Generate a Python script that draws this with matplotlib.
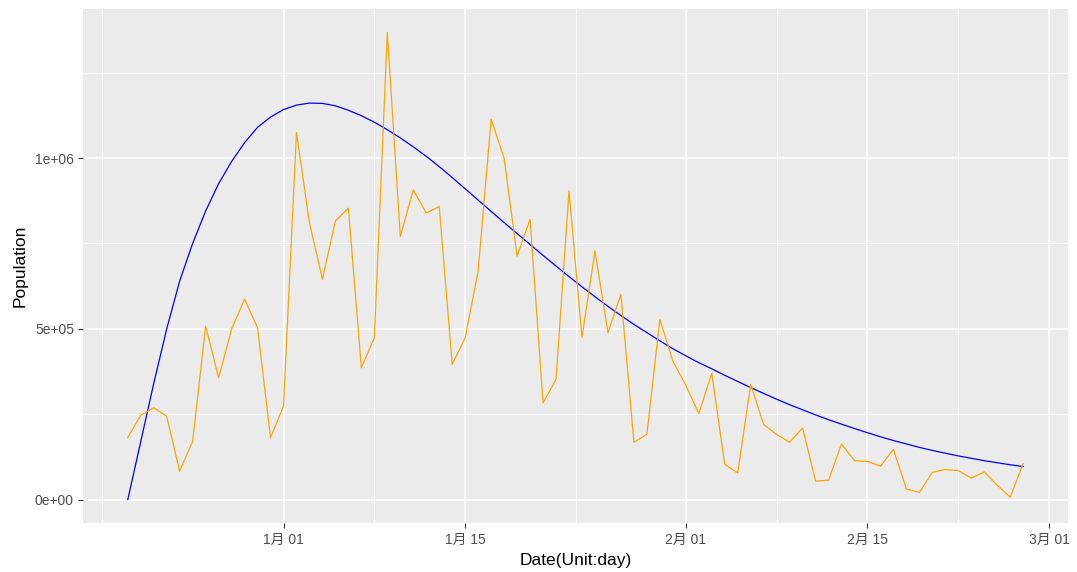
import matplotlib
matplotlib.use("Agg")

import matplotlib.pyplot as plt
import matplotlib.ticker as mticker
import pandas as pd

plt.rcParams["font.family"] = ["Liberation Sans", "Noto Sans CJK SC"]

# ── Data ──────────────────────────────────────────────────────────────────────
start_date = "2020-12-20"

# observed daily population
daily_counts = [
    182e3, 247e3, 269e3, 244e3, 83e3, 171e3, 508e3, 357e3, 499e3, 587e3,
    503e3, 181e3, 274e3, 1075e3, 810e3, 645e3, 816e3, 853e3, 386e3, 474e3,
    1368e3, 770e3, 907e3, 839e3, 858e3, 396e3, 474e3, 670e3, 1114e3, 999e3,
    713e3, 821e3, 283e3, 352e3, 904e3, 474e3, 728e3, 489e3, 601e3, 168e3,
    191e3, 528e3, 406e3, 335e3, 252e3, 370e3, 103e3, 78e3, 337e3, 220e3,
    191e3, 168e3, 210e3, 54e3, 57e3, 163e3, 114e3, 112e3, 98e3, 147e3,
    31e3, 21e3, 80e3, 88e3, 85e3, 63e3, 81e3, 42e3, 7e3, 106e3,
]

# fitted curve
fitted_counts = [
    0, 170e3, 340e3, 500e3, 640e3, 750e3, 845e3, 925e3, 990e3, 1045e3,
    1090e3, 1120e3, 1142e3, 1155e3, 1161e3, 1160e3, 1153e3, 1140e3, 1124e3, 1105e3,
    1083e3, 1059e3, 1033e3, 1005e3, 975e3, 943e3, 910e3, 877e3, 844e3, 811e3,
    779e3, 747e3, 715e3, 684e3, 653e3, 623e3, 594e3, 566e3, 539e3, 513e3,
    489e3, 465e3, 442e3, 421e3, 401e3, 383e3, 364e3, 346e3, 328e3, 311e3,
    294e3, 278e3, 263e3, 248e3, 234e3, 221e3, 208e3, 196e3, 184e3, 173e3,
    163e3, 153e3, 144e3, 136e3, 128e3, 121e3, 114e3, 108e3, 102e3, 97e3,
]

tick_dates = ["2021-01-01", "2021-01-15", "2021-02-01", "2021-02-15", "2021-03-01"]
tick_labels = ["1月 01", "1月 15", "2月 01", "2月 15", "3月 01"]
minor_dates = ["2020-12-18 00:00", "2021-01-08 00:00", "2021-01-23 12:00",
               "2021-02-08 00:00", "2021-02-22 00:00"]

y_ticks = [0, 5e5, 1e6]
y_labels = ["0e+00", "5e+05", "1e+06"]
y_minor = [2.5e5, 7.5e5, 1.25e6]

dates = pd.date_range(start_date, periods=len(daily_counts), freq="D")

# ── Figure ────────────────────────────────────────────────────────────────────
fig = plt.figure(figsize=(10.77, 5.72), dpi=100, facecolor="white")
ax = fig.add_axes([83 / 1077, 1 - 523 / 572, (1068 - 83) / 1077, (523 - 9) / 572])
ax.set_facecolor("#EBEBEB")

ax.plot(dates, fitted_counts, color="blue", lw=0.9)
ax.plot(dates, daily_counts, color="orange", lw=0.9)

# ggplot-style 5% expansion
span = dates[-1] - dates[0]
ax.set_xlim(dates[0] - span * 0.05, dates[-1] + span * 0.05)
ymin, ymax = min(min(daily_counts), min(fitted_counts)), max(max(daily_counts), max(fitted_counts))
pad = (ymax - ymin) * 0.05
ax.set_ylim(ymin - pad, ymax + pad)

ax.set_xticks(pd.to_datetime(tick_dates))
ax.set_xticklabels(tick_labels)
ax.set_xticks(pd.to_datetime(minor_dates, format="%Y-%m-%d %H:%M"), minor=True)
ax.set_yticks(y_ticks)
ax.set_yticklabels(y_labels)
ax.yaxis.set_minor_locator(mticker.FixedLocator(y_minor))

ax.grid(which="major", color="white", lw=1.1)
ax.grid(which="minor", color="white", lw=0.55)
ax.set_axisbelow(True)
for s in ax.spines.values():
    s.set_visible(False)

ax.tick_params(which="major", length=3.5, width=0.8, color="#333333",
               labelcolor="#4D4D4D", labelsize=10, pad=3)
ax.tick_params(axis="x", which="major", pad=4)
ax.tick_params(which="minor", length=0)

ax.set_xlabel("Date(Unit:day)", fontsize=12.5, color="black", labelpad=4)
ax.set_ylabel("Population", fontsize=12.5, color="black", labelpad=5)

fig.savefig("out.png", dpi=100, facecolor=fig.get_facecolor())
